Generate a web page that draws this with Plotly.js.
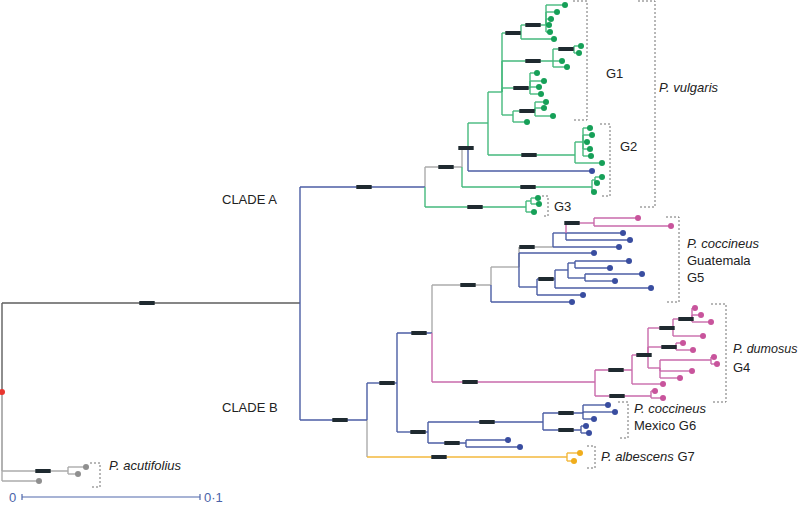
<!DOCTYPE html>
<html><head><meta charset="utf-8">
<script src="https://cdn.plot.ly/plotly-3.0.1.min.js"></script>
<style>html,body{margin:0;padding:0;background:#fff}#chart{width:800px;height:509px}</style>
</head><body><div id="chart"></div>
<script>
// ---- tree data (node id, parent, depth x, row y, lineage, support bar position on incoming branch) ----
const nodeId = [
 "R","M","OG","a1","a2","a3",
 "CA","CB","CA1","G3","G3a","t1","t2","t3",
 "CA2","G2b","G2b1","t4","t5","t6",
 "CA3","tb","G1","G2a","G2a1","t7","t8","t9","t10","t11","t12",
 "G1a","G1a1","t13","t14","t15","t16","t17","t18",
 "G1b","G1b1","t19","t20","t21","t22",
 "G1c","t23","t24","t25","t26",
 "G1d","G1d1","t27","t28","t29","t30",
 "CB1","G7","t31","t32","CB2","G6","G5","G4",
 "G6a","G6b","G6a1","G6a2","t33","t34","t35","t36","t37","t38","t39",
 "G5a","t40","G5b","t41","G5c","G5d","t42","G5e","t43","t44","t45","t46","G5f","t47","G5g","t48","G5h","G5i","t49","t50","t51","t52",
 "G4a","G4b","t53","t54","G4c","t55","G4d","G4e","G4f","G4g","t56","t57","t58","t59","t60","t61","G4h","t62","t63","t64","t65"
];
const nodeParent = [
 "","R","R","OG","OG","R",
 "M","M","CA","CA","G3","G3a","G3a","G3",
 "CA1","CA1","G2b","G2b1","G2b1","G2b",
 "CA2","CA2","CA3","CA3","G2a","G2a1","G2a1","G2a1","G2a1","G2a1","G2a",
 "G1","G1a","G1a1","G1a1","G1a1","G1a1","G1a1","G1a",
 "G1","G1b","G1b1","G1b1","G1b","G1b",
 "G1","G1c","G1c","G1c","G1c",
 "G1","G1d","G1d1","G1d1","G1d1","G1d",
 "CB","CB","G7","G7","CB1","CB1","CB2","CB2",
 "G6","G6","G6a","G6a","G6a1","G6a1","G6a1","G6a2","G6a2","G6b","G6b",
 "G5","G5","G5a","G5a","G5a","G5b","G5b","G5d","G5e","G5e","G5d","G5d","G5c","G5c","G5f","G5f","G5g","G5g","G5h","G5h","G5i","G5i",
 "G4","G4","G4b","G4b","G4a","G4a","G4c","G4c","G4c","G4d","G4g","G4g","G4g","G4d","G4e","G4e","G4f","G4h","G4h","G4f","G4f"
];
const nodeX = [
 2,300,68,86,78,39,
 425,367,462,526,531,538,539,534,
 468,592,595,602,597,594,
 488,592,502,575,583,590,592,587,590,591,602,
 521,546,565,557,551,549,550,554,
 553,574,581,579,562,567,
 530,537,544,539,541,
 513,535,546,544,553,527,
 397,567,580,574,432,428,491,595,
 543,466,583,581,608,615,594,586,589,508,520,
 519,572,553,594,537,566,619,594,638,671,623,630,555,583,568,651,575,585,629,610,642,615,
 632,651,655,663,648,663,673,676,660,692,695,701,711,703,683,693,711,714,717,692,680
];
const nodeY = [
 392,303,471,467,474,481,
 187,420,167,207,201,198,204,212,
 148,187,180,177,183,192,
 123,171,92,155,142,128,135,142,149,156,163,
 33,25,5,12,19,25,32,39,
 61,49,46,53,61,67,
 88,73,81,87,94,
 115,111,102,108,116,122,
 383,457,453,461,333,432,285,382,
 422,443,413,430,405,412,419,426,433,440,447,
 267,302,247,253,287,233,247,223,218,226,233,240,279,295,270,288,263,278,261,268,274,281,
 370,396,391,398,355,384,328,347,368,319,308,315,322,336,343,350,360,357,364,371,378
];
const nodeLineage = [
 "k","k","g","g","g","g",
 "B","B","g","A","A","A","A","A",
 "g","A","A","A","A","A",
 "A","B","A","A","A","A","A","A","A","A","A",
 "A","A","A","A","A","A","A","A",
 "A","A","A","A","A","A",
 "A","A","A","A","A",
 "A","A","A","A","A","A",
 "B","Y","Y","Y","B","B","g","P",
 "B","B","B","B","B","B","B","B","B","B","B",
 "g","B","g","B","B","B","B","P","P","P","B","B","B","B","B","B","B","B","B","B","B","B",
 "P","P","P","P","P","P","P","P","P","P","P","P","P","P","P","P","P","P","P","P","P"
];
const supportBarX = [
 null,147,43,null,null,null,
 364,340,446,475,null,null,null,null,
 466,528,null,null,null,null,
 null,null,null,529,null,null,null,null,null,null,null,
 513,533,null,null,null,null,null,null,
 533,566,null,null,null,null,
 521,null,null,null,null,
 null,527,null,null,null,null,
 387,439,null,null,419,418,468,470,
 487,452,566,566,null,null,null,null,null,null,null,
 null,null,527,null,null,null,null,572,null,null,null,null,546,null,null,null,null,null,null,null,null,null,
 616,617,null,null,644,null,667,669,null,686,null,null,null,null,null,null,null,null,null,null,null
];
const scaleBarValues = [0, 0.1];
const scaleBarLabels = ["0", "0·1"];

// ---- styles ----
const lineColor = {k:"#5e5e5e", g:"#ababab", A:"#45b97d", B:"#4b5da4", P:"#c96aab", Y:"#f3b83c"};
const tipColor  = {k:"#777777", g:"#8f8f8f", A:"#16a058", B:"#394da0", P:"#c8549c", Y:"#f0ad1c"};
const stemOverride = {G7:"g", G5:"g"};
const pxPerUnit = 1780, scaleX0 = 22, scaleY = 497;

const idx = {}; nodeId.forEach((n,i)=>idx[n]=i);
const hasChild = new Set(nodeParent.filter(p=>p));
const segs = {};
function addSeg(c,x0,y0,x1,y1){ (segs[c]=segs[c]||{x:[],y:[]}); segs[c].x.push(x0,x1,null); segs[c].y.push(y0,y1,null); }
nodeId.forEach((n,i)=>{
  const p = nodeParent[i]; if(!p) return;
  const j = idx[p];
  const c = nodeLineage[i];
  addSeg(stemOverride[n]||c, nodeX[j], nodeY[j], nodeX[j], nodeY[i]);
  addSeg(c, nodeX[j], nodeY[i], nodeX[i], nodeY[i]);
});
const traces = [];
Object.keys(segs).forEach(c=>traces.push({type:"scatter",mode:"lines",x:segs[c].x,y:segs[c].y,
  line:{color:lineColor[c],width:1.4},hoverinfo:"skip",showlegend:false}));
// support bars
const bx=[],by=[];
supportBarX.forEach((v,i)=>{ if(v!==null){bx.push(v);by.push(nodeY[i]);} });
traces.push({type:"scatter",mode:"markers",x:bx,y:by,showlegend:false,hoverinfo:"skip",
  marker:{symbol:"line-ew",size:11,line:{width:4,color:"#1f2a30"}}});
// tips by lineage
["g","A","B","P","Y"].forEach(c=>{
  const tx=[],ty=[];
  nodeId.forEach((n,i)=>{ if(!hasChild.has(n) && nodeLineage[i]===c){tx.push(nodeX[i]);ty.push(nodeY[i]);} });
  traces.push({type:"scatter",mode:"markers",x:tx,y:ty,showlegend:false,hoverinfo:"skip",
    marker:{size:6,color:tipColor[c]}});
});
// root point
traces.push({type:"scatter",mode:"markers",x:[nodeX[0]],y:[nodeY[0]],showlegend:false,hoverinfo:"skip",
  marker:{size:6,color:"#e8362f"}});
// scale bar
const sx = scaleBarValues.map(v=>scaleX0+v*pxPerUnit);
traces.push({type:"scatter",mode:"lines",x:[sx[0],sx[1],null,sx[0],sx[0],null,sx[1],sx[1]],
  y:[scaleY,scaleY,null,scaleY-3,scaleY+3,null,scaleY-3,scaleY+3],
  line:{color:"#5068ac",width:1.2},showlegend:false,hoverinfo:"skip"});

const F = {family:"Liberation Sans, Arial, Helvetica, sans-serif", size:13, color:"#222"};
function ann(x,y,text,extra){ return Object.assign({x:x,y:y,xref:"x",yref:"y",text:text,showarrow:false,
  xanchor:"left",yanchor:"middle",font:F},extra||{}); }
const annotations = [
  ann(220,199,"CLADE A"), ann(220,407,"CLADE B"),
  ann(604,73,"G1"), ann(618,146,"G2"), ann(552,206,"G3"),
  ann(657,87,"<i>P. vulgaris</i>"),
  ann(685,243,"<i>P. coccineus</i>"), ann(685,260,"Guatemala"), ann(685,277,"G5"),
  ann(731,349,"<i>P. dumosus</i>",{font:Object.assign({},F,{size:12.5})}), ann(731,367,"G4"),
  ann(632,408,"<i>P. coccineus</i>"), ann(632,425,"Mexico G6"),
  ann(599,456,"<i>P. albescens</i> G7"),
  ann(107,465,"<i>P. acutifolius</i>"),
  ann(sx[0]-4,scaleY,scaleBarLabels[0],{xanchor:"right",font:Object.assign({},F,{color:"#4a63a8"})}),
  ann(sx[1]+2,scaleY,scaleBarLabels[1],{font:Object.assign({},F,{color:"#4a63a8"})})
];
function bracket(x,top,bot,left){ return {type:"path",xref:"x",yref:"y",
  path:`M${left},${top} H${x} V${bot} H${left}`,line:{color:"#707070",width:1,dash:"2px,2px"}}; }
const shapes = [
  bracket(587,1,120,573), bracket(610,124,196,600), bracket(548,196,216,542),
  bracket(655,1,207,638), bracket(679,217,302,666), bracket(726,304,402,711),
  bracket(628,402,438,618), bracket(595,446,468,587), bracket(100,463,487,90)
];
const layout = {width:800,height:509,margin:{l:0,r:0,t:0,b:0},paper_bgcolor:"#fff",plot_bgcolor:"#fff",
  xaxis:{range:[0,800],visible:false,fixedrange:true},
  yaxis:{range:[509,0],visible:false,fixedrange:true},
  annotations:annotations,shapes:shapes,showlegend:false};
Plotly.newPlot("chart",traces,layout,{displayModeBar:false,staticPlot:true});
</script></body></html>
